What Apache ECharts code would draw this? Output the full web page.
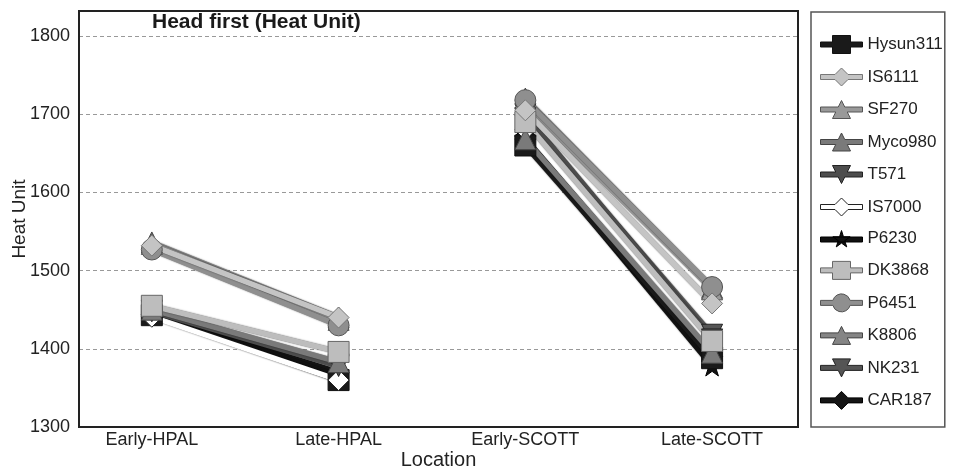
<!DOCTYPE html>
<html><head><meta charset="utf-8">
<script src="https://cdn.jsdelivr.net/npm/echarts@6/dist/echarts.min.js"></script>
<style>html,body{margin:0;padding:0;background:#fff}#c{width:958px;height:468px}</style>
</head><body><div id="c"></div>
<script>
const categories = ['Early-HPAL','Late-HPAL','Early-SCOTT','Late-SCOTT'];
const yTicks = [1300,1400,1500,1600,1700,1800];
const names = ['Hysun311','IS6111','SF270','Myco980','T571','IS7000','P6230','DK3868','P6451','K8806','NK231','CAR187'];
const Hysun311 = [1443, 1360, 1660, 1388];
const IS6111   = [1532, 1440, 1705, 1458];
const SF270    = [1534, 1437, 1712, 1476];
const Myco980  = [1450, 1383, 1668, 1395];
const T571     = [1448, 1378, 1700, 1412];
const IS7000   = [1441, 1360, 1680, 1402];
const P6230    = [1445, 1365, 1665, 1378];
const DK3868   = [1455, 1396, 1690, 1410];
const P6451    = [1527, 1430, 1718, 1479];
const K8806    = [1536, 1440, 1720, 1478];
const NK231    = [1449, 1380, 1695, 1418];
const CAR187   = [1444, 1370, 1672, 1390];
const values = [Hysun311, IS6111, SF270, Myco980, T571, IS7000, P6230, DK3868, P6451, K8806, NK231, CAR187];

const STAR = 'path://M50,0 L61,35 L98,35 L68,57 L79,91 L50,70 L21,91 L32,57 L2,35 L39,35 Z';
const DOWN = 'path://M0,0 L10,0 L5,10 Z';
// legend icons: line + marker outline, in a 42x18 box
const LG = {
  rect: 'path://M0,6.5 L12,6.5 L12,0 L30,0 L30,6.5 L42,6.5 L42,11.5 L30,11.5 L30,18 L12,18 L12,11.5 L0,11.5 Z',
  diamond: 'path://M0,6.5 L14.5,6.5 L21,0 L27.5,6.5 L42,6.5 L42,11.5 L27.5,11.5 L21,18 L14.5,11.5 L0,11.5 Z',
  triangle: 'path://M0,6.5 L17.75,6.5 L21,0 L24.25,6.5 L42,6.5 L42,11.5 L26.75,11.5 L30,18 L12,18 L15.25,11.5 L0,11.5 Z',
  down: 'path://M0,6.5 L15.25,6.5 L12,0 L30,0 L26.75,6.5 L42,6.5 L42,11.5 L24.25,11.5 L21,18 L17.75,11.5 L0,11.5 Z',
  circle: 'path://M0,6.5 L12.354,6.5 A9,9 0 0 1 29.646,6.5 L42,6.5 L42,11.5 L29.646,11.5 A9,9 0 0 1 12.354,11.5 L0,11.5 Z',
  star: 'path://M0,6.5 L42,6.5 L42,11.5 L0,11.5 Z M21,0 L22.98,6.3 L29.64,6.3 L24.24,10.26 L26.22,16.38 L21,12.6 L15.78,16.38 L17.76,10.26 L12.36,6.3 L19.02,6.3 Z'
};
const styles = [
  {sym:'rect', lg:'rect', fill:'#1a1a1a', border:'#111'},
  {sym:'diamond', lg:'diamond', fill:'#c4c4c4', border:'#777'},
  {sym:'triangle', lg:'triangle', fill:'#999999', border:'#555'},
  {sym:'triangle', lg:'triangle', fill:'#7a7a7a', border:'#444'},
  {sym:DOWN, lg:'down', fill:'#4d4d4d', border:'#222'},
  {sym:'diamond', lg:'diamond', fill:'#ffffff', border:'#222'},
  {sym:STAR, lg:'star', fill:'#111111', border:'#000'},
  {sym:'rect', lg:'rect', fill:'#bdbdbd', border:'#666'},
  {sym:'circle', lg:'circle', fill:'#8f8f8f', border:'#555'},
  {sym:'triangle', lg:'triangle', fill:'#858585', border:'#444'},
  {sym:DOWN, lg:'down', fill:'#555555', border:'#222'},
  {sym:'diamond', lg:'diamond', fill:'#151515', border:'#000'}
];
// drawing order: dark lines underneath, light lines on top
const drawOrder = ['CAR187','P6230','Hysun311','IS7000','NK231','T571','Myco980','K8806','SF270','P6451','DK3868','IS6111'];

const series = [];
drawOrder.forEach(n => {
  const i = names.indexOf(n);
  const st = styles[i];
  const v = values[i];
  [[0,1],[2,3]].forEach(pair => {
    series.push({
      name: n, type: 'line',
      data: pair.map(k => [k, v[k]]),
      symbol: st.sym, symbolSize: 21, symbolKeepAspect: true,
      lineStyle: {width: 5.5, color: st.fill, shadowColor: 'rgba(0,0,0,0.6)', shadowBlur: 1.5},
      itemStyle: {color: st.fill, borderColor: st.border, borderWidth: 1},
      emphasis: {disabled: true},
      animation: false
    });
  });
});

const chart = echarts.init(document.getElementById('c'));
chart.setOption({
  backgroundColor: '#fff',
  textStyle: {fontFamily: 'Liberation Sans'},
  title: {text: 'Head first (Heat Unit)', left: 147, top: 7,
    textStyle: {fontSize: 21, fontWeight: 'bold', color: '#1a1a1a', fontFamily: 'Liberation Sans'}},
  grid: {left: 79, right: 160, top: 11, bottom: 41, show: true, borderColor: '#222', borderWidth: 2,
    backgroundColor: 'transparent', z: 3, outerBoundsMode: 'none', containLabel: false},
  legend: {
    orient: 'vertical', left: 811, top: 12,
    data: names.map((n, i) => ({name: n, icon: LG[styles[i].lg],
      itemStyle: {color: styles[i].fill, borderColor: styles[i].border, borderWidth: 1}})),
    itemWidth: 42, itemHeight: 18, itemGap: 13.5,
    padding: [23, 2, 17, 9],
    borderColor: '#555', borderWidth: 1.5,
    textStyle: {fontSize: 17, color: '#222', fontFamily: 'Liberation Sans'},
    selectedMode: false
  },
  xAxis: {
    type: 'value', min: -0.39, max: 3.46,
    name: 'Location', nameLocation: 'middle', nameGap: 23, nameMoveOverlap: false,
    nameTextStyle: {fontSize: 20, color: '#222'},
    axisLine: {show: true, onZero: false, lineStyle: {color: '#222', width: 2}},
    axisTick: {show: false},
    splitLine: {show: false},
    axisLabel: {customValues: [0,1,2,3], formatter: v => categories[Math.round(v)], fontSize: 18, color: '#222', margin: 4}
  },
  yAxis: {
    type: 'value', min: yTicks[0], max: 1832, interval: 100,
    name: 'Heat Unit', nameLocation: 'middle', nameGap: 50, nameMoveOverlap: false,
    nameTextStyle: {fontSize: 19, color: '#222'},
    axisLine: {show: true, onZero: false, lineStyle: {color: '#222', width: 2}},
    axisTick: {show: false, customValues: yTicks},
    axisLabel: {customValues: yTicks, formatter: v => String(v), fontSize: 18, color: '#222', margin: 9},
    splitLine: {show: true, lineStyle: {type: [4,3], color: '#999', width: 1}}
  },
  series: series
});
</script></body></html>
